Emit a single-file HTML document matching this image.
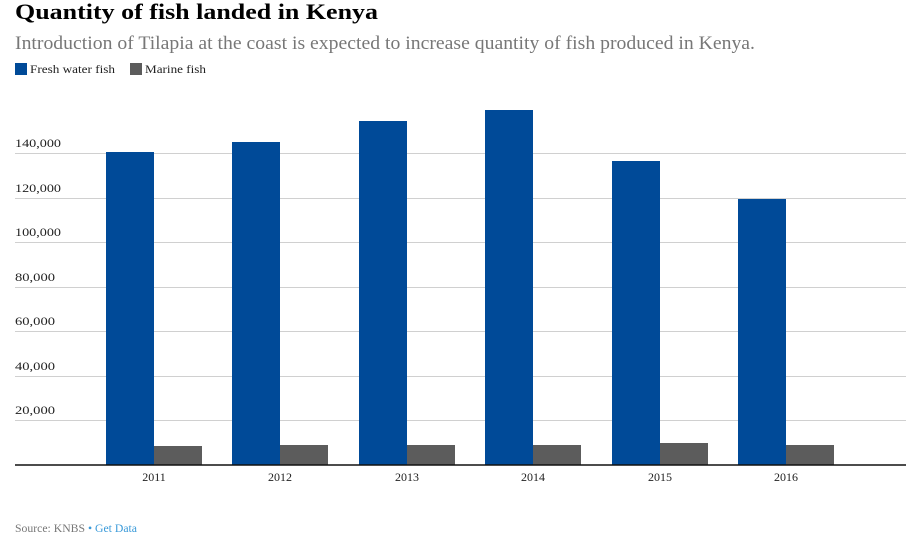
<!DOCTYPE html>
<html><head><meta charset="utf-8"><style>
html,body{margin:0;padding:0;background:#fff;}
svg{display:block;}
text{font-family:"Liberation Serif",serif;}
</style></head><body>
<svg width="906" height="539" viewBox="0 0 906 539" xmlns="http://www.w3.org/2000/svg">
<text x="15" y="19" font-size="22" font-weight="bold" fill="#000" textLength="363" lengthAdjust="spacingAndGlyphs">Quantity of fish landed in Kenya</text>
<text x="15" y="49" font-size="19" fill="#777" textLength="740" lengthAdjust="spacingAndGlyphs">Introduction of Tilapia at the coast is expected to increase quantity of fish produced in Kenya.</text>
<rect x="15" y="63" width="12" height="12" fill="#004a98"/>
<text x="30" y="73" font-size="12" fill="#222" textLength="85" lengthAdjust="spacingAndGlyphs">Fresh water fish</text>
<rect x="130" y="63" width="12" height="12" fill="#5c5c5c"/>
<text x="145" y="73" font-size="12" fill="#222" textLength="61" lengthAdjust="spacingAndGlyphs">Marine fish</text>
<g stroke="#d0d0d0" stroke-width="1">
<line x1="15" x2="906" y1="153.5" y2="153.5"/>
<line x1="15" x2="906" y1="198.5" y2="198.5"/>
<line x1="15" x2="906" y1="242.5" y2="242.5"/>
<line x1="15" x2="906" y1="287.5" y2="287.5"/>
<line x1="15" x2="906" y1="331.5" y2="331.5"/>
<line x1="15" x2="906" y1="376.5" y2="376.5"/>
<line x1="15" x2="906" y1="420.5" y2="420.5"/>
</g>
<g font-size="12" fill="#222">
<text x="15" y="147" textLength="46" lengthAdjust="spacingAndGlyphs">140,000</text>
<text x="15" y="192" textLength="46" lengthAdjust="spacingAndGlyphs">120,000</text>
<text x="15" y="236" textLength="46" lengthAdjust="spacingAndGlyphs">100,000</text>
<text x="15" y="281" textLength="40" lengthAdjust="spacingAndGlyphs">80,000</text>
<text x="15" y="325" textLength="40" lengthAdjust="spacingAndGlyphs">60,000</text>
<text x="15" y="370" textLength="40" lengthAdjust="spacingAndGlyphs">40,000</text>
<text x="15" y="414" textLength="40" lengthAdjust="spacingAndGlyphs">20,000</text>
</g>
<g fill="#004a98">
<rect x="106" y="152" width="48" height="313"/>
<rect x="232" y="142" width="48" height="323"/>
<rect x="359" y="121" width="48" height="344"/>
<rect x="485" y="110" width="48" height="355"/>
<rect x="612" y="161" width="48" height="304"/>
<rect x="738" y="199" width="48" height="266"/>
</g>
<g fill="#5c5c5c">
<rect x="154" y="446" width="48" height="19"/>
<rect x="280" y="445" width="48" height="20"/>
<rect x="407" y="445" width="48" height="20"/>
<rect x="533" y="445" width="48" height="20"/>
<rect x="660" y="443" width="48" height="22"/>
<rect x="786" y="445" width="48" height="20"/>
</g>
<line x1="15" x2="906" y1="465" y2="465" stroke="#111" stroke-width="1.5"/>
<g font-size="12" fill="#222" text-anchor="middle">
<text x="154" y="481">2011</text>
<text x="280" y="481">2012</text>
<text x="407" y="481">2013</text>
<text x="533" y="481">2014</text>
<text x="660" y="481">2015</text>
<text x="786" y="481">2016</text>
</g>
<text x="15" y="532" font-size="12" fill="#777" textLength="122" lengthAdjust="spacingAndGlyphs">Source: KNBS <tspan fill="#3a9ad9">•</tspan> <tspan fill="#3a9ad9">Get Data</tspan></text>
</svg>
</body></html>
